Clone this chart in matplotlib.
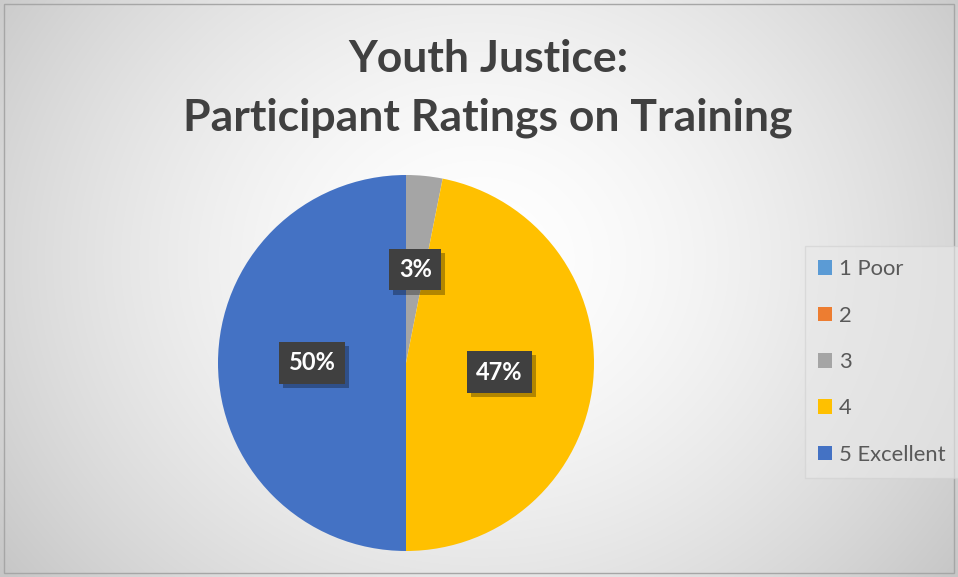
import numpy as np
import matplotlib.pyplot as plt
from matplotlib.patches import Patch, Rectangle
from matplotlib import patheffects as pe

# data
categories = ['1 Poor', '2', '3', '4', '5 Excellent']
counts = [0, 0, 1, 15, 16]
colors = ['#5B9BD5', '#ED7D31', '#A5A5A5', '#FFC000', '#4472C4']

plt.rcParams['font.family'] = ['Lato', 'DejaVu Sans']

W, H = 958, 577
fig = plt.figure(figsize=(W / 100, H / 100), dpi=100)

# radial gradient background
bg = fig.add_axes([0, 0, 1, 1], zorder=-10)
yy, xx = np.mgrid[0:H, 0:W]
r = np.sqrt(((xx - W * 0.5) / (W * 0.62)) ** 2 + ((yy - H * 0.45) / (H * 0.9)) ** 2)
g = 1.0 - 0.22 * np.clip(r, 0, 1) ** 1.6
bg.imshow(np.dstack([g, g, g]), aspect='auto', extent=[0, W, H, 0])
bg.add_patch(Rectangle((4, 4), W - 8, H - 8, fill=False, edgecolor='#a6a6a6', lw=1))
bg.set_xlim(0, W)
bg.set_ylim(H, 0)
bg.axis('off')

# title
fig.text(488 / W, 1 - 39 / H, 'Youth Justice:\nParticipant Ratings on Training',
         ha='center', va='top', fontsize=32, fontweight='bold', color='#404040',
         linespacing=1.55)

# pie
R = 188
ax = fig.add_axes([(406 - R) / W, (H - 363 - R) / H, 2 * R / W, 2 * R / H])
wedges, texts, autotexts = ax.pie(
    counts, colors=colors, startangle=90, counterclock=False, radius=1,
    autopct=lambda p: f'{p:.0f}%' if p > 0 else '', pctdistance=0.5,
    wedgeprops=dict(linewidth=0))
ax.set_xlim(-1, 1)
ax.set_ylim(-1, 1)
ax.set_aspect('equal')

for t in autotexts:
    if t.get_text():
        t.set_color('white')
        t.set_fontsize(17)
        t.set_fontweight('bold')
        t.set_bbox(dict(boxstyle='square,pad=0.4', facecolor='#404040', edgecolor='none'))
        t.get_bbox_patch().set_path_effects(
            [pe.SimplePatchShadow(offset=(3, -3), shadow_rgbFace='black', alpha=0.3), pe.Normal()])

# legend
handles = [Patch(facecolor=c, edgecolor='none') for c in colors]
leg = fig.legend(handles, categories, loc='center left',
                 bbox_to_anchor=(805 / W, 1 - 362 / H), frameon=True, borderaxespad=0,
                 fontsize=15.8, labelcolor='#595959', handlelength=0.65, handleheight=0.65,
                 handletextpad=0.3, labelspacing=1.2, borderpad=0.6, fancybox=False)
leg.get_frame().set_facecolor('#e8e8e8')
leg.get_frame().set_edgecolor('#d0d0d0')
leg.get_frame().set_alpha(0.6)

fig.savefig('out.png', dpi=100)
